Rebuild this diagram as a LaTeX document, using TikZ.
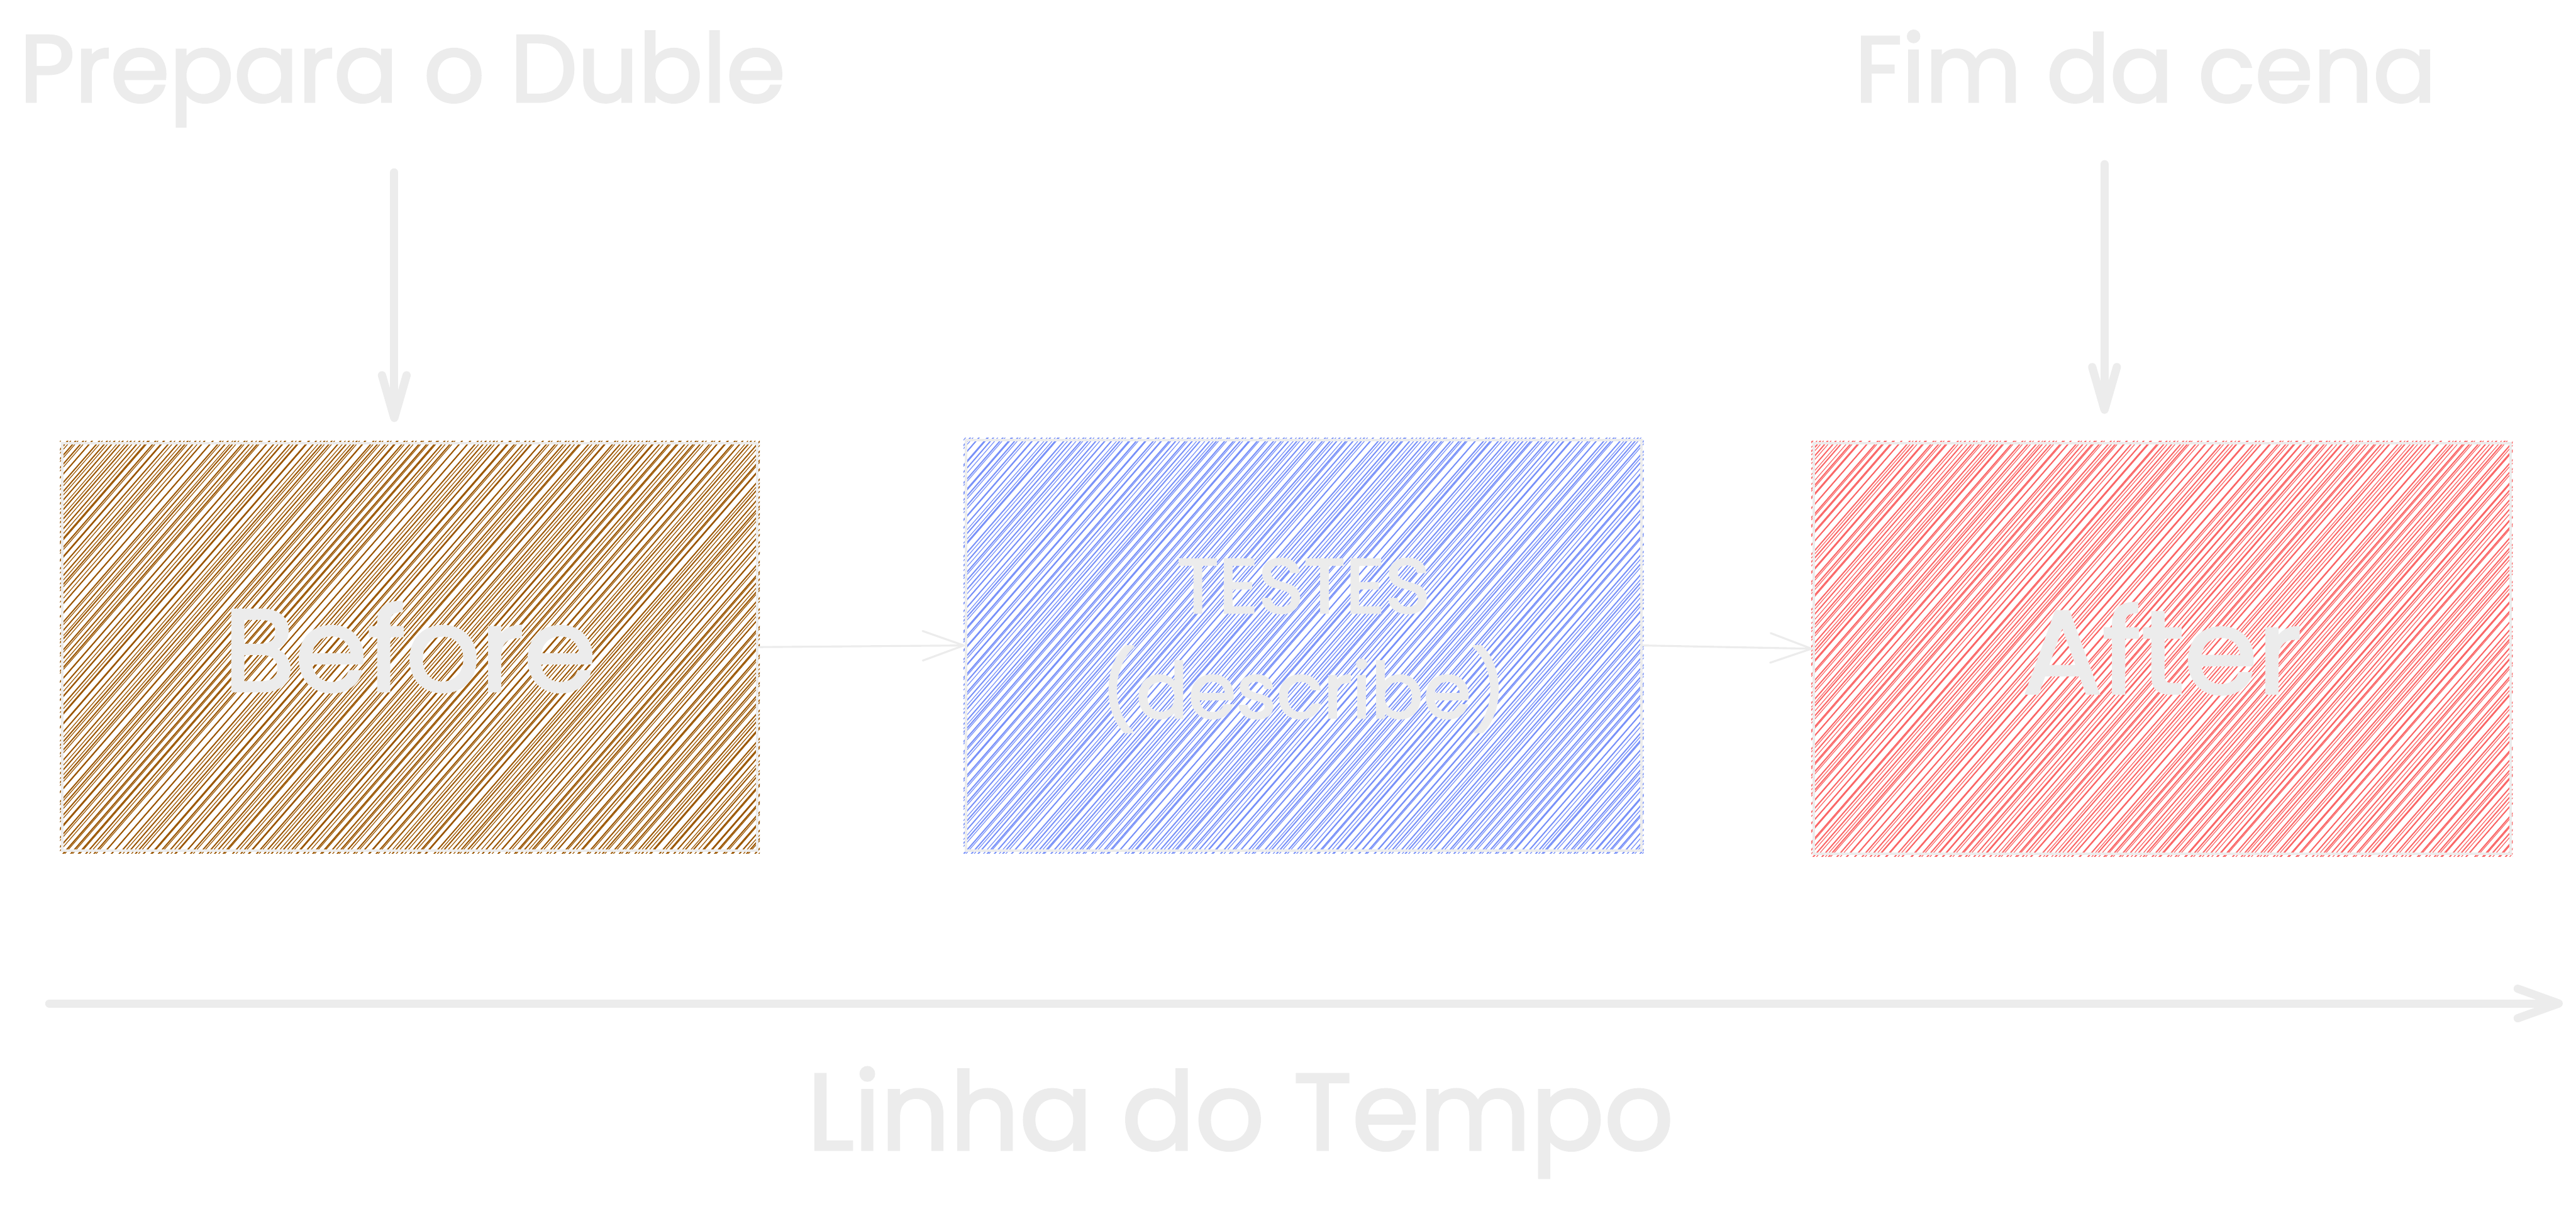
\documentclass[tikz,border=0pt]{standalone}
\usepackage{fontspec}
\setmainfont{Poppins}[UprightFeatures={FakeBold=2.2}]
\usetikzlibrary{arrows.meta}
\definecolor{lg}{HTML}{ECECEC}
\definecolor{hbrown}{HTML}{9A5500}
\definecolor{hblue}{HTML}{7790F8}
\definecolor{hred}{HTML}{FA6565}
\newcommand\hatchbox[5]{%
  \begin{scope}
    \clip (#1-1.5,#2-1.5) rectangle (#3+1.5,#4+1.5);
    \pgfmathsetmacro\cx{(#1+#3)/2}
    \pgfmathsetmacro\cy{(#2+#4)/2}
    \foreach \t in {-262,-258.3,...,262}{
      \pgfmathsetmacro\oa{rand*0.5}
      \pgfmathsetmacro\ob{rand*1.0+1.1}
      \draw[#5, line width=0.75pt] ({\cx+(\t+\oa)*0.755-400*0.656},{\cy+(\t+\oa)*0.656+400*0.755}) -- ++(524.8,-604);
      \draw[#5, line width=0.45pt] ({\cx+(\t+\ob)*0.755-400*0.656},{\cy+(\t+\ob)*0.656+400*0.755}) -- ++(524.8,-604);
    }
  \end{scope}}
\tikzset{
  box/.style={draw=lg, line width=1.5pt, inner sep=0pt, text=lg, align=center},
  lbl/.style={text=lg, inner sep=0pt},
  thinarrow/.style={draw=lg, line width=1.2pt, line cap=round, -{Straight Barb[length=25pt,width=18pt,round]}},
  thickarrow/.style={draw=lg, line width=5pt, line cap=round, -{Straight Barb[length=26pt,width=15pt,round]}},
  timearrow/.style={draw=lg, line width=5pt, line cap=round, -{Straight Barb[length=25pt,width=18pt,round]}}
}
\begin{document}
\begin{tikzpicture}[x=1pt,y=-1pt]
\useasboundingbox (0,0) rectangle (1568,736);
\pgfmathsetseed{7}
% hachure fills
\hatchbox{38}{270}{461}{518}{hbrown}
\hatchbox{588}{268}{999}{518}{hblue}
\hatchbox{1104}{270}{1528}{520}{hred}
% boxes
\node[box, minimum width=423pt, minimum height=248pt, font=\fontsize{71}{80}\selectfont] (before) at (249.5,394) {Before};
\node[box, minimum width=411pt, minimum height=250pt, font=\fontsize{47}{64}\selectfont] (testes) at (793.5,393) {TESTES\\(describe)};
\node[box, minimum width=424pt, minimum height=250pt, font=\fontsize{72}{80}\selectfont] (after) at (1316,395) {After};
% connectors between boxes
\draw[thinarrow] (before.east) -- (testes.west);
\draw[thinarrow] (testes.east) -- (after.west);
% top labels and arrows
\node[lbl, font=\fontsize{58}{64}\selectfont, anchor=base] (prep) at (245,62) {Prepara o Duble};
\node[lbl, font=\fontsize{57}{64}\selectfont, anchor=base] (fim) at (1306,62) {Fim da cena};
\coordinate (p1) at (240,105);
\coordinate (p2) at (240,257);
\coordinate (f1) at (1281,100);
\coordinate (f2) at (1281,252);
\draw[thickarrow] (p1) -- (p2);
\draw[thickarrow] (f1) -- (f2);
% timeline
\coordinate (t1) at (30,611);
\coordinate (t2) at (1560,611);
\draw[timearrow] (t1) -- (t2);
\node[lbl, font=\fontsize{66}{72}\selectfont, anchor=base] (linha) at (755,700) {Linha do Tempo};
\end{tikzpicture}
\end{document}
